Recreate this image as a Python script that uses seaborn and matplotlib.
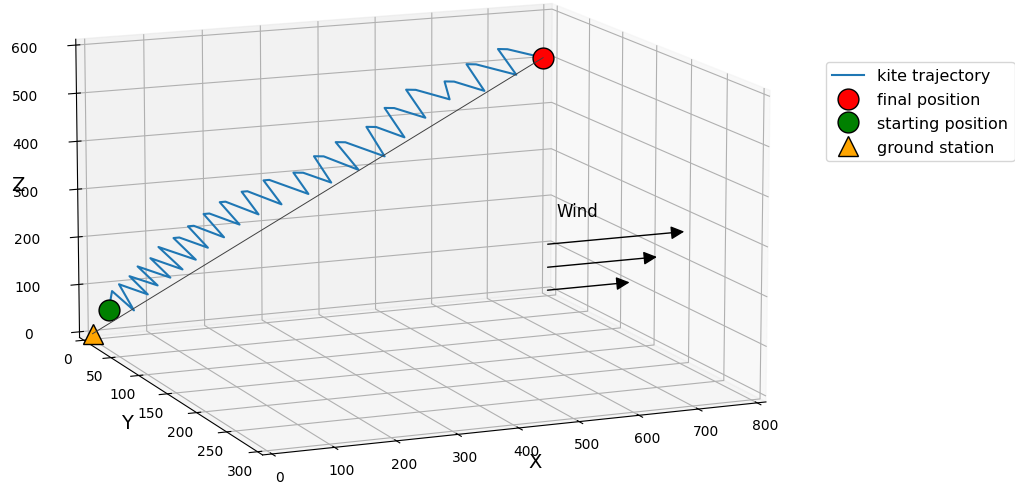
import numpy as np
import matplotlib
matplotlib.use("Agg")
import matplotlib.pyplot as plt
import seaborn as sns
from matplotlib.patches import FancyArrowPatch
from mpl_toolkits.mplot3d import proj3d

# Kite path (m): launch point, then the alternating crests and dips of each loop
traj_x = [28, 34, 71, 46, 95, 64, 112, 78, 134, 100, 155, 114, 178,
          140, 150, 199, 165, 175, 227, 192, 202, 254, 220, 230, 287,
          258, 268, 327, 296, 306, 374, 348, 365, 414, 384, 401, 462,
          422, 439, 508, 476, 493, 543, 508, 525, 580, 546, 563, 623,
          614, 631, 685, 653, 670, 742, 709, 726, 790]
traj_y = [0] * len(traj_x)
traj_z = [47, 86, 41, 99, 72, 114, 89, 133, 103, 148, 118, 170, 136,
          186, 186, 159, 208, 208, 178, 231, 231, 202, 253, 253, 220,
          271, 271, 237, 291, 291, 254, 302, 300, 274, 333, 331, 296,
          359, 357, 320, 386, 384, 357, 423, 421, 395, 458, 456, 430,
          469, 467, 442, 502, 500, 471, 529, 527, 503]

ground_station = (0, 0, 0)
start_position = (28, 0, 47)
final_position = (790, 0, 503)

# Wind profile: heights (m) and arrow lengths along +X
wind_origin_x = 800
wind_heights = [0, 50, 100]
wind_lengths = [150, 200, 250]

x_ticks = list(range(0, 801, 100))
y_ticks = list(range(0, 301, 50))
z_ticks = list(range(0, 601, 100))


class Arrow3D(FancyArrowPatch):
    """Filled-head arrow whose end points live in 3D data space."""

    def __init__(self, xs, ys, zs, *args, **kwargs):
        super().__init__((0, 0), (0, 0), *args, **kwargs)
        self._verts3d = xs, ys, zs

    def do_3d_projection(self, renderer=None):
        xs3d, ys3d, zs3d = self._verts3d
        xs, ys, zs = proj3d.proj_transform(xs3d, ys3d, zs3d, self.axes.M)
        self.set_positions((xs[0], ys[0]), (xs[1], ys[1]))
        return np.min(zs)


palette = sns.color_palette("tab10")

fig = plt.figure(figsize=(10.15, 4.85), dpi=100)
ax = fig.add_axes([-0.0127, 0.036, 0.83, 1.0], projection="3d",
                  computed_zorder=False)

ax.plot(traj_x, traj_y, traj_z, color=palette[0], lw=1.5,
        label="kite trajectory", zorder=3, clip_on=False)
ax.plot([final_position[0]], [final_position[1]], [final_position[2]],
        "o", color="red", mec="black", mew=1, ms=15,
        label="final position", zorder=4, clip_on=False)
ax.plot([start_position[0]], [start_position[1]], [start_position[2]],
        "o", color="green", mec="black", mew=1, ms=15,
        label="starting position", zorder=4, clip_on=False)
ax.plot([ground_station[0]], [ground_station[1]], [ground_station[2]],
        "^", color="orange", mec="black", mew=1, ms=15,
        label="ground station", zorder=4, clip_on=False)

# tether from the ground station to the kite
ax.plot([ground_station[0], final_position[0]],
        [ground_station[1], final_position[1]],
        [ground_station[2], final_position[2]],
        color="0.25", lw=0.7, zorder=5, clip_on=False)

for h, length in zip(wind_heights, wind_lengths):
    arrow = Arrow3D([wind_origin_x, wind_origin_x + length], [0, 0], [h, h],
                    arrowstyle="-|>", mutation_scale=20, lw=1,
                    color="black", shrinkA=0, shrinkB=0, zorder=6,
                    clip_on=False)
    ax.add_artist(arrow)
ax.text(815, 0, 170, "Wind", fontsize=12, ha="left", va="center")

ax.set_xlim(-15, 815)
ax.set_ylim(308, -8)
ax.set_zlim(-12, 612)
ax.set_xticks(x_ticks)
ax.set_yticks(y_ticks)
ax.set_zticks(z_ticks)
ax.set_xlabel("X", fontsize=14, labelpad=-7)
ax.set_ylabel("Y", fontsize=14, labelpad=-6.5)
ax.set_zlabel("Z", fontsize=14, labelpad=-4.5)
ax.tick_params(axis="x", labelsize=10, pad=-1.5)
ax.tick_params(axis="y", labelsize=10, pad=-2)
ax.tick_params(axis="z", labelsize=10, pad=6.3)

ax.set_proj_type("persp", focal_length=2.2)
ax.set_box_aspect((4, 3.9, 2.35), zoom=1.61)
ax.view_init(elev=12.3, azim=-112.8)

ax.legend(loc="upper left", bbox_to_anchor=(0.8138, 0.870),
          bbox_transform=fig.transFigure, borderaxespad=0,
          fontsize=11.5, labelspacing=0.55)

fig.savefig("out.png", dpi=100)
